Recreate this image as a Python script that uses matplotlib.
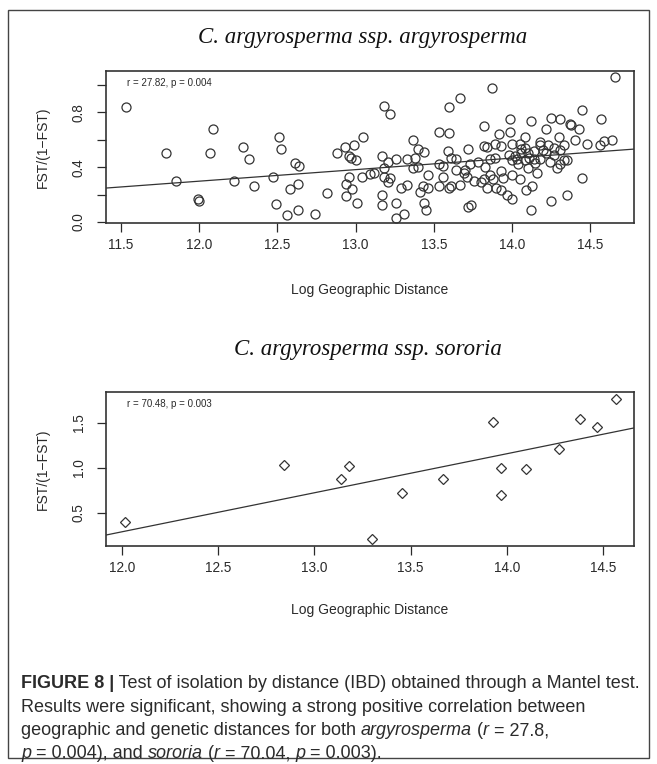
import numpy as np
import matplotlib
matplotlib.use("Agg")
import matplotlib.pyplot as plt
from matplotlib import font_manager as fm
from matplotlib.patches import Rectangle

# --- data ---
arg_x = [11.53, 11.79, 11.85, 11.99, 12.00, 12.07, 12.09, 12.22, 12.28, 12.32,
         12.35, 12.47, 12.49, 12.51, 12.52, 12.56, 12.58, 12.61, 12.64, 12.63,
         12.63, 12.74, 12.82, 12.88, 12.93, 12.96, 12.97, 12.99, 13.00, 13.05,
         12.96, 12.94, 12.98, 12.94, 13.01, 13.04, 13.09, 13.12,
         13.18, 13.22, 13.17, 13.21, 13.26, 13.18, 13.18, 13.22, 13.21, 13.17,
         13.17, 13.26, 13.26, 13.31, 13.29, 13.33, 13.33, 13.37, 13.38, 13.37,
         13.40, 13.40, 13.44, 13.46, 13.41, 13.43, 13.46, 13.44, 13.45, 13.53,
         13.60, 13.60, 13.67, 13.53, 13.56, 13.53, 13.56, 13.59, 13.61, 13.64,
         13.64, 13.60, 13.61, 13.67, 13.70, 13.69, 13.71, 13.72, 13.73, 13.72,
         13.74, 13.78, 13.82, 13.87, 13.82, 13.84, 13.83, 13.80, 13.82, 13.84,
         13.86, 13.89, 13.86, 13.88, 13.90, 13.92, 13.89, 13.93, 13.93, 13.94,
         13.93, 13.97, 14.00, 13.99, 13.99, 14.00, 14.00, 14.00, 14.03, 14.05,
         14.05, 14.06, 14.06, 14.08, 14.08, 14.09, 14.10, 14.12, 14.10, 14.13,
         14.12, 14.14, 14.16, 14.18, 14.18, 14.18, 14.20, 14.22, 14.23, 14.22,
         14.25, 14.25, 14.27, 14.30, 14.31, 14.29, 14.31, 14.33, 14.31, 14.33,
         14.35, 14.35, 14.37, 14.38, 14.40, 14.43, 14.45, 14.45, 14.48, 14.57,
         14.56, 14.59, 14.64, 14.66,
         14.02, 14.04, 14.11, 14.15, 14.08, 13.98, 14.14, 14.27, 14.24, 13.76]
arg_y = [0.84, 0.50, 0.30, 0.166, 0.15, 0.50, 0.68, 0.30, 0.55, 0.46,
         0.26, 0.33, 0.13, 0.62, 0.53, 0.05, 0.24, 0.43, 0.41, 0.28,
         0.09, 0.06, 0.21, 0.50, 0.55, 0.48, 0.47, 0.56, 0.45, 0.62,
         0.33, 0.28, 0.24, 0.19, 0.14, 0.33, 0.35, 0.36,
         0.85, 0.79, 0.48, 0.44, 0.46, 0.39, 0.33, 0.32, 0.29, 0.20,
         0.12, 0.14, 0.03, 0.06, 0.25, 0.27, 0.46, 0.60, 0.47, 0.39,
         0.40, 0.53, 0.51, 0.34, 0.22, 0.26, 0.25, 0.14, 0.09, 0.66,
         0.65, 0.84, 0.905, 0.42, 0.41, 0.26, 0.33, 0.52, 0.465, 0.46,
         0.38, 0.245, 0.26, 0.27, 0.38, 0.355, 0.33, 0.53, 0.42, 0.11,
         0.12, 0.44, 0.70, 0.976, 0.555, 0.545, 0.40, 0.29, 0.31, 0.25,
         0.46, 0.465, 0.34, 0.31, 0.245, 0.64, 0.57, 0.555, 0.37, 0.32,
         0.23, 0.20, 0.166, 0.75, 0.66, 0.57, 0.34, 0.45, 0.46, 0.57,
         0.31, 0.53, 0.50, 0.45, 0.62, 0.23, 0.50, 0.74, 0.39, 0.26,
         0.09, 0.46, 0.36, 0.585, 0.56, 0.46, 0.525, 0.68, 0.56, 0.50,
         0.76, 0.155, 0.54, 0.62, 0.75, 0.39, 0.525, 0.56, 0.42, 0.45,
         0.45, 0.20, 0.715, 0.71, 0.60, 0.68, 0.82, 0.32, 0.57, 0.75,
         0.56, 0.59, 0.595, 1.06,
         0.48, 0.42, 0.47, 0.43, 0.54, 0.49, 0.52, 0.49, 0.44, 0.30]

sor_x = [12.015, 12.84, 13.14, 13.18, 13.30, 13.455, 13.67, 13.93, 13.97,
         13.97, 14.10, 14.27, 14.38, 14.47, 14.57]
sor_y = [0.40, 1.03, 0.875, 1.02, 0.21, 0.72, 0.88, 1.51, 1.00,
         0.70, 0.99, 1.21, 1.54, 1.46, 1.77]

titles = ["C. argyrosperma ssp. argyrosperma", "C. argyrosperma ssp. sororia"]
stats = ["r = 27.82, p = 0.004", "r = 70.48, p = 0.003"]
arg_xticks = [11.5, 12.0, 12.5, 13.0, 13.5, 14.0, 14.5]
arg_yticks = [0.0, 0.2, 0.4, 0.6, 0.8, 1.0]
arg_ylabels = ["0.0", "", "0.4", "", "0.8", ""]
sor_xticks = [12.0, 12.5, 13.0, 13.5, 14.0, 14.5]
sor_yticks = [0.5, 1.0, 1.5]
sor_ylabels = ["0.5", "1.0", "1.5"]

names = {f.name for f in fm.fontManager.ttflist}
narrow = "Liberation Sans Narrow" if "Liberation Sans Narrow" in names else "Liberation Sans"
cap_size = 11.5 if narrow == "Liberation Sans Narrow" else 13.0

W, H = 657, 764
ink = "#2a2a2a"
fig = plt.figure(figsize=(W / 100, H / 100), dpi=100)
bg = fig.add_axes([0, 0, 1, 1])
bg.set_xlim(0, W)
bg.set_ylim(H, 0)
bg.axis("off")
bg.add_patch(Rectangle((8, 10), 641, 748, fill=False, lw=1.0, ec="#444444"))


def px_axes(x0, y0, x1, y1):
    return fig.add_axes([x0 / W, 1 - y1 / H, (x1 - x0) / W, (y1 - y0) / H])


def panel(ax, x, y, marker, ms, xlim, ylim, xticks, yticks, ylabels, stat):
    x = np.array(x)
    y = np.array(y)
    ax.plot(x, y, linestyle="none", marker=marker, ms=ms, mfc="none",
            mec="#333333", mew=0.9)
    b, a = np.polyfit(x, y, 1)
    xx = np.array(xlim)
    ax.plot(xx, a + b * xx, color="#333333", lw=0.9)
    ax.set_xlim(xlim)
    ax.set_ylim(ylim)
    ax.set_xticks(xticks)
    ax.set_xticklabels([f"{t:.1f}" for t in xticks], fontsize=9.8,
                       family="Liberation Sans", color=ink)
    ax.set_yticks(yticks)
    ax.set_yticklabels(ylabels, rotation=90, va="center", fontsize=9.8,
                       family="Liberation Sans", color=ink)
    ax.tick_params(direction="out", length=6.5, width=0.9, colors=ink,
                   labelcolor=ink)
    ax.tick_params(axis="x", pad=4)
    ax.tick_params(axis="y", pad=8)
    for s in ax.spines.values():
        s.set_color("#333333")
        s.set_linewidth(1.2)
    ax.text(0.04, 0.92, stat, transform=ax.transAxes, fontsize=7,
            family="Liberation Sans", color=ink, va="center", ha="left")


ax1 = px_axes(106, 71, 634, 223)
panel(ax1, arg_x, arg_y, "o", 6.5, (11.404, 14.78), (-0.008, 1.102),
      arg_xticks, arg_yticks, arg_ylabels, stats[0])
ax2 = px_axes(106, 392, 634, 546)
panel(ax2, sor_x, sor_y, "D", 5.5, (11.917, 14.661), (0.133, 1.844),
      sor_xticks, sor_yticks, sor_ylabels, stats[1])

for xc, yc, t in [(363, 38, titles[0]), (368, 350, titles[1])]:
    bg.text(xc, yc, t, fontsize=16.5, style="italic", family="Liberation Serif",
            ha="center", va="center", color="#111111")
for yc in [290, 610]:
    bg.text(370, yc, "Log Geographic Distance", fontsize=10,
            family="Liberation Sans", ha="center", va="center", color=ink)
for yc in [147, 469]:
    bg.text(43, yc, "FST/(1\u2212FST)", fontsize=10, rotation=90,
            family="Liberation Sans", ha="center", va="center", color=ink)

# caption, pieces placed one after the other
caption = [
    [("FIGURE 8 |", "bold"), (" Test of isolation by distance (IBD) obtained through a Mantel test.", "normal")],
    [("Results were significant, showing a strong positive correlation between", "normal")],
    [("geographic and genetic distances for both ", "normal"), ("argyrosperma", "italic"),
     (" (", "normal"), ("r", "italic"), (" = 27.8,", "normal")],
    [("p", "italic"), (" = 0.004), and ", "normal"), ("sororia", "italic"), (" (", "normal"),
     ("r", "italic"), (" = 70.04, ", "normal"), ("p", "italic"), (" = 0.003).", "normal")],
]
for i, line in enumerate(caption):
    prev = None
    for txt, sty in line:
        kw = dict(fontsize=cap_size, family=narrow, color="#2b2b2b", va="baseline", ha="left",
                  fontweight="bold" if sty == "bold" else "normal",
                  style="italic" if sty == "italic" else "normal")
        if prev is None:
            prev = bg.text(21, 688 + 23.5 * i, txt, **kw)
        else:
            prev = bg.annotate(txt, xy=(1, 0), xycoords=prev, xytext=(0, 0),
                               textcoords="offset points", **dict(kw, va="bottom"))

fig.savefig("out.png", dpi=100)
